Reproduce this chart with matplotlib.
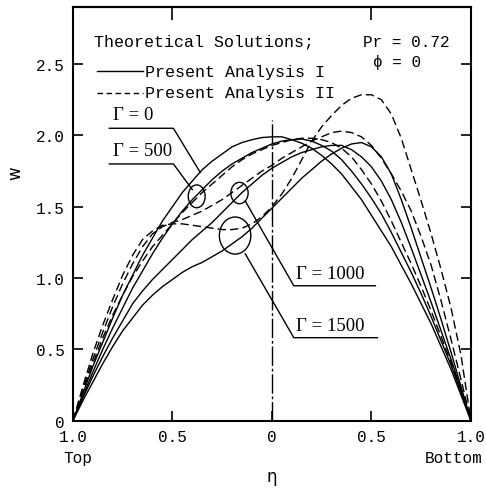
import matplotlib
matplotlib.use("Agg")
import matplotlib.pyplot as plt
from matplotlib.patches import Ellipse

# eta from Top (-1) to Bottom (+1), step 0.05
eta = [-1.0, -0.95, -0.9, -0.85, -0.8, -0.75, -0.7, -0.65, -0.6, -0.55, -0.5,
       -0.45, -0.4, -0.35, -0.3, -0.25, -0.2, -0.15, -0.1, -0.05, 0.0,
       0.05, 0.1, 0.15, 0.2, 0.25, 0.3, 0.35, 0.4, 0.45, 0.5,
       0.55, 0.6, 0.65, 0.7, 0.75, 0.8, 0.85, 0.9, 0.95, 1.0]

# Present Analysis I (solid)
w_I_0 = [0, 0.19, 0.38, 0.55, 0.72, 0.88, 1.02, 1.16, 1.28, 1.40, 1.50,
         1.60, 1.68, 1.76, 1.82, 1.87, 1.92, 1.95, 1.97, 1.985, 1.99,
         1.99, 1.97, 1.945, 1.91, 1.86, 1.80, 1.73, 1.64, 1.55, 1.44,
         1.33, 1.22, 1.09, 0.96, 0.82, 0.68, 0.52, 0.36, 0.18, 0]
w_I_500 = [0, 0.17, 0.34, 0.50, 0.65, 0.79, 0.93, 1.05, 1.17, 1.28, 1.38,
           1.47, 1.55, 1.62, 1.69, 1.75, 1.80, 1.84, 1.88, 1.91, 1.94,
           1.96, 1.97, 1.975, 1.96, 1.93, 1.89, 1.83, 1.75, 1.66, 1.56,
           1.45, 1.32, 1.18, 1.04, 0.89, 0.73, 0.56, 0.39, 0.20, 0]
w_I_1000 = [0, 0.16, 0.31, 0.45, 0.58, 0.70, 0.82, 0.91, 0.99, 1.06, 1.13,
            1.20, 1.27, 1.33, 1.39, 1.46, 1.53, 1.60, 1.66, 1.72, 1.77,
            1.81, 1.85, 1.88, 1.90, 1.92, 1.93, 1.93, 1.90, 1.85, 1.78,
            1.68, 1.55, 1.39, 1.21, 1.02, 0.83, 0.63, 0.43, 0.22, 0]
w_I_1500 = [0, 0.14, 0.27, 0.40, 0.52, 0.63, 0.72, 0.81, 0.88, 0.94, 0.99,
            1.04, 1.08, 1.11, 1.15, 1.19, 1.24, 1.29, 1.35, 1.42, 1.49,
            1.56, 1.63, 1.70, 1.76, 1.82, 1.87, 1.91, 1.94, 1.95, 1.92,
            1.85, 1.73, 1.55, 1.35, 1.14, 0.93, 0.71, 0.48, 0.24, 0]

# Present Analysis II (dashed)
w_II_500 = [0, 0.21, 0.40, 0.58, 0.74, 0.88, 1.01, 1.12, 1.22, 1.30, 1.38,
            1.46, 1.53, 1.60, 1.66, 1.72, 1.78, 1.83, 1.87, 1.90, 1.93,
            1.95, 1.97, 1.98, 1.98, 1.97, 1.95, 1.91, 1.85, 1.76, 1.66,
            1.54, 1.40, 1.25, 1.10, 0.94, 0.77, 0.59, 0.41, 0.21, 0]
w_II_1000 = [0, 0.22, 0.43, 0.62, 0.80, 0.96, 1.10, 1.22, 1.31, 1.36, 1.39,
             1.41, 1.44, 1.47, 1.51, 1.55, 1.60, 1.65, 1.70, 1.75, 1.79,
             1.84, 1.88, 1.92, 1.96, 1.99, 2.02, 2.03, 2.02, 1.99, 1.93,
             1.84, 1.73, 1.61, 1.47, 1.29, 1.09, 0.84, 0.57, 0.29, 0]
w_II_1500 = [0, 0.24, 0.47, 0.67, 0.85, 1.02, 1.16, 1.27, 1.33, 1.37, 1.38,
             1.38, 1.37, 1.36, 1.35, 1.34, 1.34, 1.35, 1.38, 1.43, 1.50,
             1.59, 1.70, 1.83, 1.96, 2.06, 2.14, 2.21, 2.26, 2.285, 2.285,
             2.25, 2.15, 1.98, 1.76, 1.54, 1.31, 1.06, 0.79, 0.46, 0]

xtick_pos = [-1.0, -0.5, 0.0, 0.5, 1.0]
xtick_lab = ["1.0", "0.5", "0", "0.5", "1.0"]
ytick_pos = [0, 0.5, 1.0, 1.5, 2.0, 2.5]
ytick_lab = ["0", "0.5", "1.0", "1.5", "2.0", "2.5"]

mono = "Liberation Mono"
serif = "Liberation Serif"

fig = plt.figure(figsize=(4.86, 4.89), dpi=100)
ax = fig.add_axes([0.150, 0.1376, 0.819, 0.846])

dash = (6, 3)
for w in [w_I_0, w_I_500, w_I_1000, w_I_1500]:
    ax.plot(eta, w, color="black", lw=1.0)
for w in [w_II_500, w_II_1000, w_II_1500]:
    ax.plot(eta, w, color="black", lw=1.0, dashes=dash)

# centre line
ax.plot([0, 0], [0, 2.11], color="black", lw=1.0, dashes=(14, 2, 2, 2))

# rings
for cx, cy, ew, eh in [(-0.378, 1.573, 0.085, 0.16), (-0.163, 1.596, 0.087, 0.15),
                       (-0.185, 1.298, 0.158, 0.26)]:
    ax.add_patch(Ellipse((cx, cy), ew, eh, fill=False, color="black", lw=1.0))

# leaders
ax.plot([-0.817, -0.495, -0.36], [2.05, 2.05, 1.74], color="black", lw=1.0)
ax.plot([-0.817, -0.495, -0.40], [1.80, 1.80, 1.62], color="black", lw=1.0)
ax.plot([0.52, 0.11, -0.134], [0.946, 0.946, 1.54], color="black", lw=1.0)
ax.plot([0.53, 0.11, -0.134], [0.582, 0.582, 1.17], color="black", lw=1.0)

ax.text(-0.80, 2.085, "Γ = 0", family=serif, fontsize=13.5, va="bottom")
ax.text(-0.80, 1.835, "Γ = 500", family=serif, fontsize=13.5, va="bottom")
ax.text(0.12, 0.975, "Γ = 1000", family=serif, fontsize=13.5, va="bottom")
ax.text(0.12, 0.61, "Γ = 1500", family=serif, fontsize=13.5, va="bottom")

# legend block
ax.text(-0.893, 2.66, "Theoretical Solutions;", family=mono, fontsize=12, va="center")
ax.text(0.46, 2.66, "Pr = 0.72", family=mono, fontsize=11.5, va="center")
ax.text(0.51, 2.52, "ϕ = 0", family=mono, fontsize=11.5, va="center")
ax.plot([-0.88, -0.65], [2.45, 2.45], color="black", lw=1.0)
ax.text(-0.64, 2.45, "Present Analysis I", family=mono, fontsize=12, va="center")
ax.plot([-0.88, -0.65], [2.30, 2.30], color="black", lw=1.0, dashes=(4, 2.5))
ax.text(-0.64, 2.30, "Present Analysis II", family=mono, fontsize=12, va="center")

ax.set_xlim(-1, 1)
ax.set_ylim(0, 2.9)
ax.set_xticks(xtick_pos)
ax.set_xticklabels(xtick_lab, family=mono, fontsize=11.5)
ax.set_yticks(ytick_pos)
ax.set_yticklabels(ytick_lab, family=mono, fontsize=11.5)
ax.tick_params(axis="both", direction="in", length=7, width=1.2, pad=6)
ax.tick_params(axis="y", right=True)
sec = ax.secondary_xaxis("top")
sec.set_xticks([-0.5, 0.5])
sec.set_xticklabels([])
sec.tick_params(direction="in", length=9, width=1.2)
for s in sec.spines.values():
    s.set_linewidth(1.5)
for s in ax.spines.values():
    s.set_linewidth(1.5)

fig.text(78 / 486, 1 - 459 / 489, "Top", family=mono, fontsize=11.5, ha="center", va="center")
fig.text(454 / 486, 1 - 459 / 489, "Bottom", family=mono, fontsize=11.5, ha="center", va="center")
fig.text(272 / 486, 1 - 477 / 489, "η", family="DejaVu Sans", fontsize=12, ha="center", va="center")
fig.text(15 / 486, 1 - 173 / 489, "w", family="DejaVu Sans", fontsize=12, rotation=90,
         ha="center", va="center")

fig.savefig("out.png", dpi=100)
